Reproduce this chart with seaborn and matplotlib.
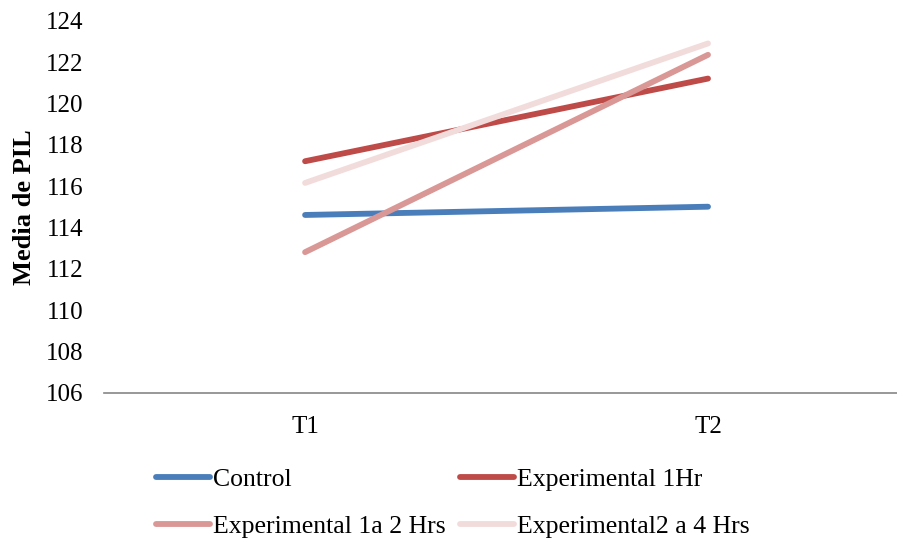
import matplotlib
matplotlib.use("Agg")
import matplotlib.pyplot as plt
import seaborn as sns
import pandas as pd

times = ["T1", "T2"]
groups = ["Control", "Experimental 1Hr", "Experimental 1a 2 Hrs", "Experimental2 a 4 Hrs"]
control = [114.6, 115.0]
exp_1hr = [117.2, 121.2]
exp_1a2 = [112.8, 122.35]
exp_2a4 = [116.15, 122.9]
colors = ["#4A7EBB", "#BE4B48", "#D99795", "#F2DCDB"]

rows = []
for g, vals in zip(groups, [control, exp_1hr, exp_1a2, exp_2a4]):
    for t, v in zip(times, vals):
        rows.append({"Tiempo": t, "PIL": v, "Grupo": g})
df = pd.DataFrame(rows)

sns.set_theme(style="white")
plt.rcParams["font.family"] = ["Liberation Serif", "DejaVu Serif"]
plt.rcParams["text.color"] = "black"
plt.rcParams["axes.labelcolor"] = "black"

fig = plt.figure(figsize=(8.97, 5.41), dpi=100)
ax = fig.add_axes([104/897, 1-392.7/541, 1-104/897, (392.7-20.7)/541])

sns.lineplot(data=df, x="Tiempo", y="PIL", hue="Grupo", hue_order=groups,
             palette=colors, linewidth=4.2, ax=ax, legend=False,
             solid_capstyle="round", sort=False)

ax.set_xlim(-0.499, 1.469)
ax.set_ylim(106, 124)
ax.set_yticks(range(106, 125, 2))
ax.set_xlabel("")
ax.set_ylabel("Media de PIL", fontsize=19, fontweight="bold", labelpad=7, color="black")
ax.tick_params(axis="y", length=0, pad=15, labelsize=18, colors="black")
ax.tick_params(axis="x", length=0, pad=16.5, labelsize=18, colors="black")
for s in ["top", "right", "left"]:
    ax.spines[s].set_visible(False)
ax.spines["bottom"].set_color("#868686")
ax.spines["bottom"].set_linewidth(1.2)
ax.grid(False)

from matplotlib.lines import Line2D
handles = [Line2D([0], [0], color=c, lw=4.2, solid_capstyle="round") for c in colors]
# matplotlib fills legend columns first; reorder so rows read left-to-right
order = [0, 2, 1, 3]
fig.legend([handles[i] for i in order], [groups[i] for i in order],
           loc="upper left", ncol=2,
           bbox_to_anchor=(156/897, 1-468/541), frameon=False,
           fontsize=18.5, handlelength=2.1, handletextpad=0.12,
           columnspacing=0.55, labelspacing=0.92, borderpad=0, borderaxespad=0,
           labelcolor="black")

fig.savefig("out.png", dpi=100)
